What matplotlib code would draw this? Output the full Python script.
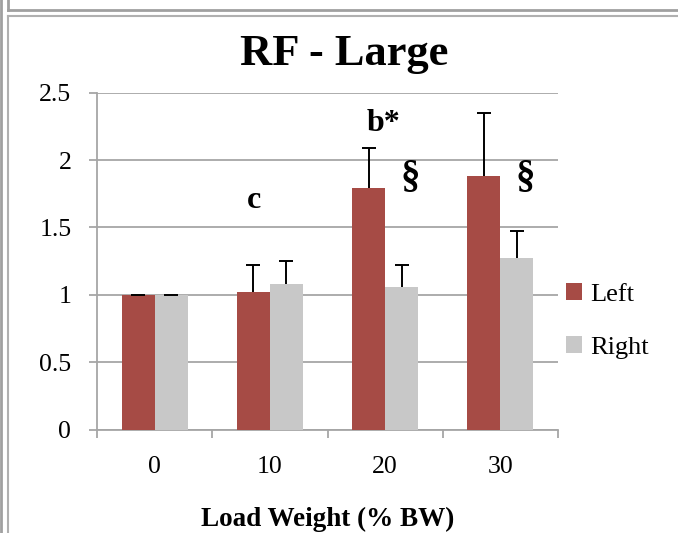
import matplotlib
matplotlib.use("Agg")
import matplotlib.pyplot as plt
from matplotlib.lines import Line2D
import numpy as np

categories = ["0", "10", "20", "30"]
left_vals = [1.00, 1.02, 1.79, 1.88]
left_err = [0.0, 0.20, 0.30, 0.47]
right_vals = [1.00, 1.08, 1.06, 1.27]
right_err = [0.0, 0.17, 0.16, 0.20]
series_names = ["Left", "Right"]
annotations = ["c", "b*", "§", "§"]
annot_x = [0.865, 1.987, 2.22, 3.213]
annot_y = [1.70, 2.27, 1.87, 1.87]
annot_size = [23, 23, 28, 28]
yticks = [0, 0.5, 1, 1.5, 2, 2.5]
ytick_labels = ["0", "0.5", "1", "1.5", "2", "2.5"]

plt.rcParams['font.family'] = ['Liberation Serif', 'DejaVu Serif']

RED = "#A64B45"
GREY = "#C8C8C8"
GRID = "#A6A6A6"

W, H = 678, 533
fig = plt.figure(figsize=(W/100, H/100), dpi=100)
ax = fig.add_axes([97/W, 1-429.5/H, (558-97)/W, (429.5-92.7)/H])

x = np.arange(len(categories))
bw = 0.287
b1 = ax.bar(x - bw/2, left_vals, bw, color=RED, label=series_names[0], zorder=3)
b2 = ax.bar(x + bw/2, right_vals, bw, color=GREY, label=series_names[1], zorder=3)

for xs, vals, errs in [(x - bw/2, left_vals, left_err), (x + bw/2, right_vals, right_err)]:
    vals = np.array(vals)
    errs = np.array(errs)
    ax.errorbar(xs, vals, yerr=[np.zeros(len(vals)), errs], fmt='none', ecolor='black',
                elinewidth=1.4, capsize=0, zorder=4)
    ax.plot(xs, vals + errs, ls='none', marker='_', ms=9.5, mew=1.4, color='black', zorder=5)

ax.set_xlim(-0.5, 3.5)
ax.set_ylim(0, 2.5)
ax.set_yticks(yticks)
ax.set_yticklabels(ytick_labels)
ax.yaxis.grid(True, color=GRID, lw=1.3, zorder=0)
ax.set_axisbelow(True)

ax.set_xticks(x)
ax.set_xticklabels(categories)
ax.set_xticks(np.arange(-0.5, 4.0, 1.0), minor=True)
ax.tick_params(axis='x', which='major', length=0, pad=19, labelsize=18.5)
ax.tick_params(axis='x', which='minor', length=6, width=1.3, color=GRID, direction='out')
ax.tick_params(axis='y', which='major', length=5.5, width=1.3, color=GRID, pad=13, labelsize=18.5)

for s in ['top', 'right']:
    ax.spines[s].set_visible(False)
for s in ['left', 'bottom']:
    ax.spines[s].set_color(GRID)
    ax.spines[s].set_linewidth(1.3)

for t, xx, yy, fs in zip(annotations, annot_x, annot_y, annot_size):
    ax.text(xx, yy, t, ha='center', va='center', fontsize=fs, fontweight='bold')

fig.text(344/W, 1-54/H, "RF - Large", ha='center', va='center', fontsize=32, fontweight='bold')
fig.text(328/W, 1-519/H, "Load Weight (% BW)", ha='center', va='center', fontsize=19.5, fontweight='bold')

leg = ax.legend(handles=[b1, b2], loc='center left', bbox_to_anchor=(566/W, 1-321/H),
                bbox_transform=fig.transFigure, frameon=False, fontsize=19,
                handlelength=0.6, handleheight=0.6, handletextpad=0.3, labelspacing=1.15,
                borderpad=0, borderaxespad=0)

# document frame lines
def fl(x0, y0, x1, y1, c="#A0A0A0", lw=2):
    fig.add_artist(Line2D([x0/W, x1/W], [1-y0/H, 1-y1/H], color=c, lw=lw, transform=fig.transFigure))

fl(1, 0, 1, 533, lw=2)
fl(7.5, 0, 7.5, 10)
fl(7.5, 10, 678, 10, lw=2)
fl(7.5, 16, 678, 16, c="#B0B0B0", lw=1.5)
fl(7.5, 16, 7.5, 533, c="#B0B0B0", lw=1.5)

fig.savefig("out.png", dpi=100)
